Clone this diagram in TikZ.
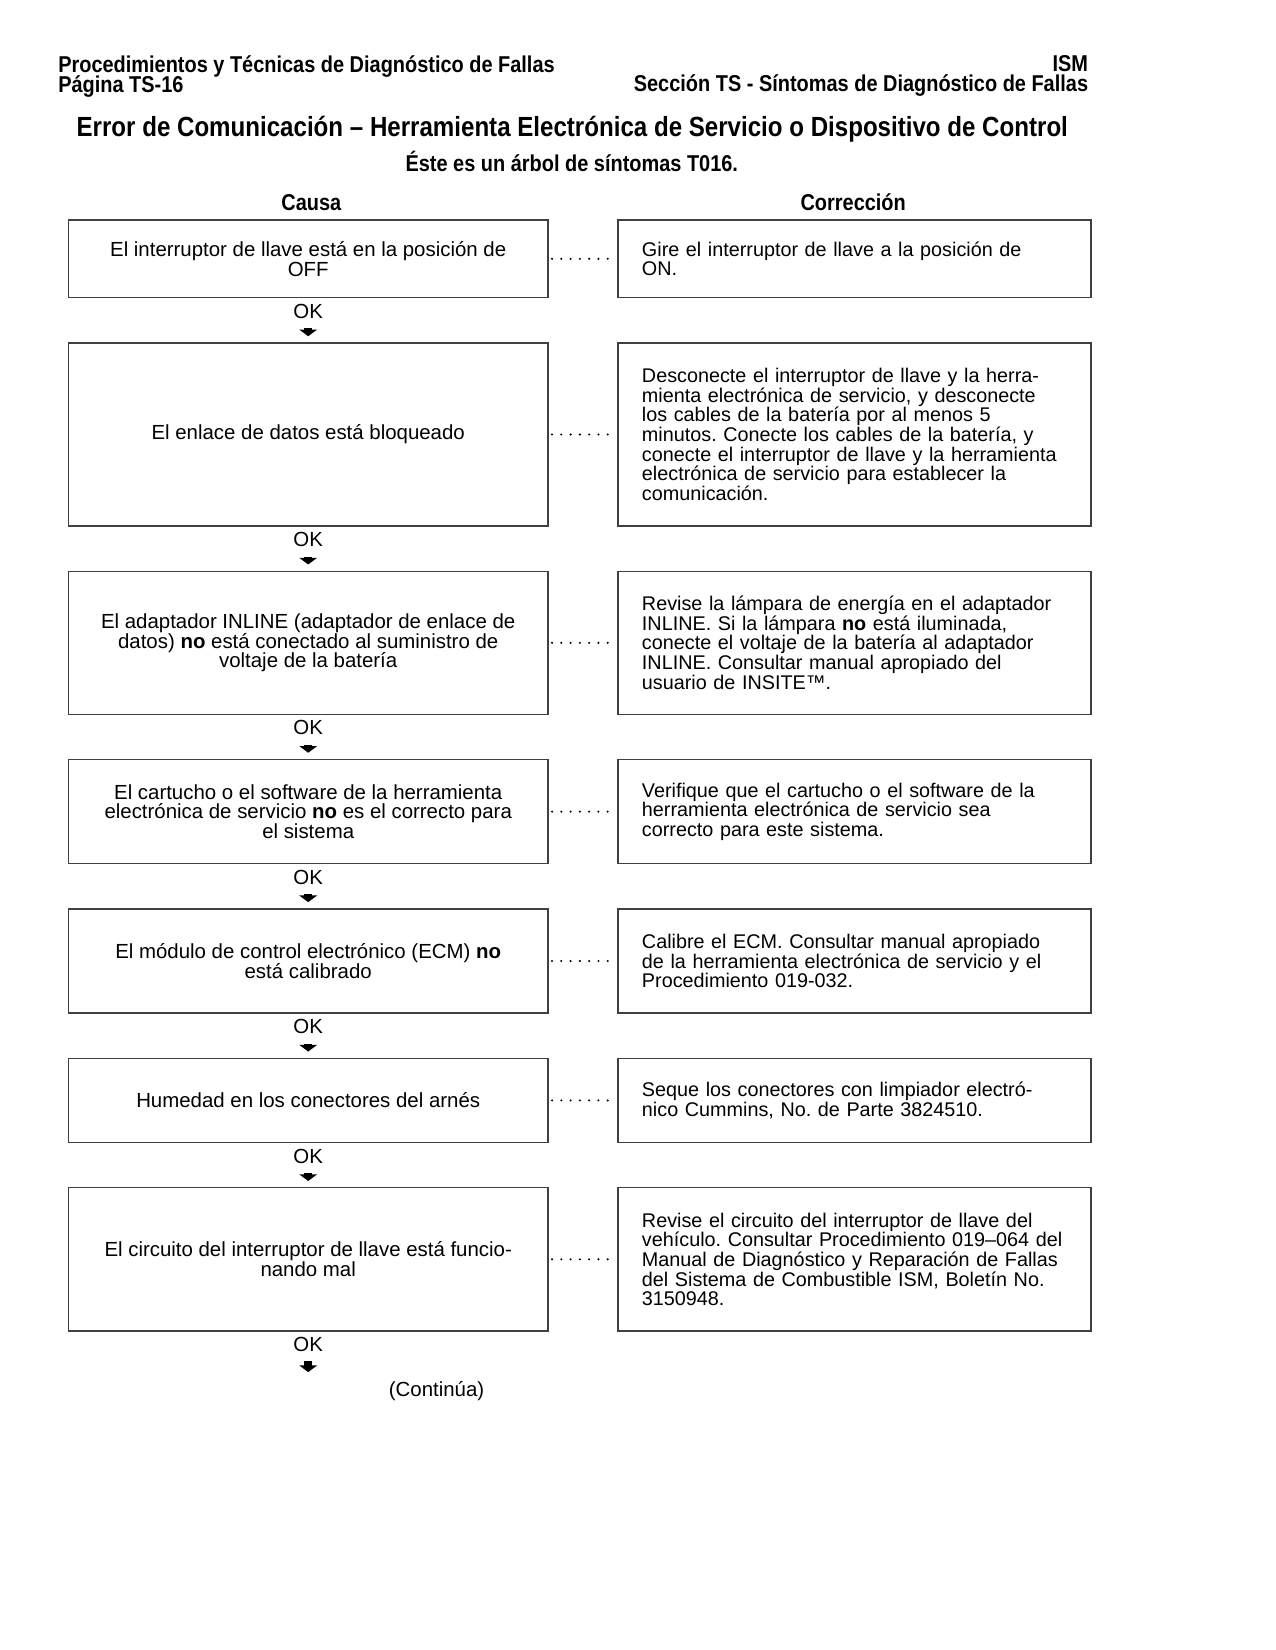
\documentclass[tikz,border=0pt]{standalone}
\usepackage{fontspec}
\setmainfont{Liberation Sans}
\newfontfamily\condfont[FakeStretch=0.87]{Liberation Sans}
\usetikzlibrary{positioning,arrows.meta}

\newcommand{\cuerpo}{\fontsize{9.8}{9.45}\selectfont\frenchspacing\lineskiplimit=-5pt\relax}
\newcommand{\cuerpoder}{\fontsize{9.5}{9.45}\selectfont\frenchspacing\lineskiplimit=-5pt\relax}
\newcommand{\encabfont}{\condfont\bfseries\fontsize{11}{9.6}\selectfont\lineskiplimit=-5pt\relax}

\begin{document}
\begin{tikzpicture}
  [x=0.48pt, y=-0.48pt,
   causa/.style={draw=black!75, line width=0.7pt, minimum width=230.2pt,
     inner sep=0pt, align=center, font=\cuerpo},
   correc/.style={draw=black!75, line width=0.7pt, text width=204pt,
     inner xsep=11.6pt, inner ysep=0pt, align=left, font=\cuerpoder},
   ok/.style={inner sep=0pt, font=\cuerpo},
   okarrow/.style={line width=4pt, shorten <=4.5pt, shorten >=2.9pt,
     -{Triangle[width=8.4pt,length=3.2pt]}},
   puntos/.style={line width=1.1pt, line cap=round,
     dash pattern=on 0pt off 4.45pt, shorten <=1.6pt, shorten >=1.4pt},
   encab/.style={inner sep=0pt, font=\encabfont},
   node distance=2.5pt]
  \useasboundingbox (0,0) rectangle (1275,1650);

  % encabezado
  \node[encab, anchor=north west, align=left] (proc) at (57.9,55)
    {Procedimientos y Técnicas de Diagnóstico de Fallas\\Página TS-16};
  \node[encab, anchor=north east, align=right] (secc) at (1088.5,55)
    {ISM\\Sección TS - Síntomas de Diagnóstico de Fallas};
  \node[encab, font=\condfont\bfseries\fontsize{13.3}{15}\selectfont] (titulo) at (572.3,129.5)
    {Error de Comunicación – Herramienta Electrónica de Servicio o Dispositivo de Control};
  \node[encab] (arbol) at (571.8,161) {Éste es un árbol de síntomas T016.};
  \node[encab] (hcausa) at (311.4,202.5) {Causa};
  \node[encab] (hcorr) at (853.2,202.5) {Corrección};

  % causas
  \node[causa, minimum height=37.3pt] (c1) at (308.2,258.8)
    {El interruptor de llave está en la posición de\\OFF};
  \node[ok, below=of c1] (ok1) {OK};
  \node[causa, minimum height=87.8pt] (c2) at (308.2,434.5)
    {El enlace de datos está bloqueado};
  \node[ok, below=of c2] (ok2) {OK};
  \node[causa, minimum height=68.7pt] (c3) at (308.2,642.8)
    {El adaptador INLINE (adaptador de enlace de\\datos) \textbf{no} está conectado al suministro de\\voltaje de la batería};
  \node[ok, below=of c3] (ok3) {OK};
  \node[causa, minimum height=50pt] (c4) at (308.2,811.6)
    {El cartucho o el software de la herramienta\\electrónica de servicio \textbf{no} es el correcto para\\el sistema};
  \node[ok, below=of c4] (ok4) {OK};
  \node[causa, minimum height=50pt] (c5) at (308.2,961)
    {El módulo de control electrónico (ECM) \textbf{no}\\está calibrado};
  \node[ok, below=of c5] (ok5) {OK};
  \node[causa, minimum height=40.4pt] (c6) at (308.2,1100.4)
    {Humedad en los conectores del arnés};
  \node[ok, below=of c6] (ok6) {OK};
  \node[causa, minimum height=68.7pt] (c7) at (308.2,1259.3)
    {El circuito del interruptor de llave está funcio-\\nando mal};
  \node[ok, below=of c7] (ok7) {OK};
  \coordinate[below=12.5pt of ok7] (fin);
  \node[inner sep=0pt, font=\cuerpo] (sigue) at (436.6,1390.8) {(Continúa)};

  % correcciones
  \node[correc, minimum height=37.3pt, right=32.8pt of c1] (r1)
    {Gire el interruptor de llave a la posición de\\ON.};
  \node[correc, minimum height=87.8pt, right=32.8pt of c2] (r2)
    {Desconecte el interruptor de llave y la herra-\\mienta electrónica de servicio, y desconecte\\los cables de la batería por al menos 5\\minutos. Conecte los cables de la batería, y\\conecte el interruptor de llave y la herramienta\\electrónica de servicio para establecer la\\comunicación.};
  \node[correc, minimum height=68.7pt, right=32.8pt of c3] (r3)
    {Revise la lámpara de energía en el adaptador\\INLINE. Si la lámpara \textbf{no} está iluminada,\\conecte el voltaje de la batería al adaptador\\INLINE. Consultar manual apropiado del\\usuario de INSITE™.};
  \node[correc, minimum height=50pt, right=32.8pt of c4] (r4)
    {Verifique que el cartucho o el software de la\\herramienta electrónica de servicio sea\\correcto para este sistema.};
  \node[correc, minimum height=50pt, right=32.8pt of c5] (r5)
    {Calibre el ECM. Consultar manual apropiado\\de la herramienta electrónica de servicio y el\\Procedimiento 019-032.};
  \node[correc, minimum height=40.4pt, right=32.8pt of c6] (r6)
    {Seque los conectores con limpiador electró-\\nico Cummins, No. de Parte 3824510.};
  \node[correc, minimum height=68.7pt, right=32.8pt of c7] (r7)
    {Revise el circuito del interruptor de llave del\\vehículo. Consultar Procedimiento 019–064 del\\Manual de Diagnóstico y Reparación de Fallas\\del Sistema de Combustible ISM, Boletín No.\\3150948.};

  % puntos y flechas
  \foreach \i in {1,...,7}
    \draw[puntos] (c\i.east) -- (r\i.west);
  \foreach \i/\j in {1/2,2/3,3/4,4/5,5/6,6/7}
    \draw[okarrow] (ok\i.south) -- (c\j.north);
  \draw[okarrow] (ok7.south) -- (fin);
\end{tikzpicture}
\end{document}
